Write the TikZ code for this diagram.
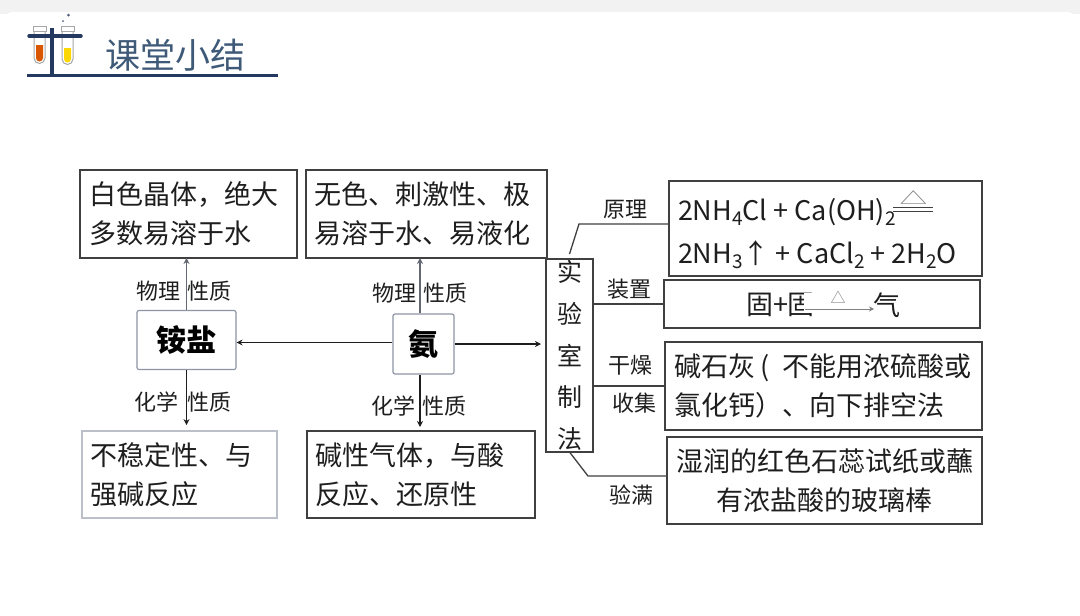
\documentclass[tikz,border=0pt]{standalone}
\usepackage{fontspec}
\setmainfont{Noto Sans CJK SC}
\usetikzlibrary{arrows.meta,calc}
\definecolor{ink}{HTML}{1E1E1E}
\definecolor{edge}{HTML}{404040}
\definecolor{navy}{HTML}{24395F}
\definecolor{titlec}{HTML}{3F5A78}
\definecolor{softedge}{HTML}{8E95A3}
\newcommand{\chemsub}[1]{\raisebox{-5.5pt}{\fontsize{19}{19}\selectfont #1}}
\tikzset{
  txt/.style={inner sep=0pt,outer sep=0pt,text=ink,font=\fontsize{27}{39}\selectfont},
  box/.style={txt,draw=edge,line width=1.2pt,rectangle},
  leftbox/.style n args={3}{box,align=left,minimum width=#1,minimum height=#2,text width=#1-2*#3,inner xsep=#3},
  midbox/.style 2 args={box,align=center,minimum width=#1,minimum height=#2},
  core/.style={draw=softedge,line width=1.2pt,rounded corners=2pt,fill=white,inner sep=0pt,text=black,font=\fontsize{30}{32}\selectfont\bfseries},
  lab/.style={inner sep=0pt,text=ink,font=\fontsize{22}{24}\selectfont},
  link/.style={draw=edge,line width=1.3pt},
  arr/.style={draw=ink,line width=1.3pt,-{Stealth[length=6pt,width=6pt]}},
  grayarr/.style={draw=softedge!70!black,line width=1.3pt,-{Stealth[length=6pt,width=6pt]}}
}
\begin{document}
\begin{tikzpicture}[x=1pt,y=-1pt]
\useasboundingbox (0,0) rectangle (1080,616);
\fill[white] (0,0) rectangle (1080,616);
\fill[black!5] (0,0) rectangle (1080,14);
\fill[white,rounded corners=14pt] (0,12) rectangle (1080,640);

% title
\node[inner sep=0pt,text=titlec,font=\fontsize{35}{38}\selectfont] (title) at (175,55) {课堂小结};
\draw[navy,line width=3.5pt] (27,75.5) -- (278,75.5);
\draw[gray!70,line width=1pt,fill=white] (34,30) -- (34,58) arc[start angle=180,end angle=0,radius=5.5] -- (45,30);
\draw[gray!70,line width=1pt,fill=white] (62,30) -- (62,59) arc[start angle=180,end angle=0,radius=5.5] -- (73,30);
\fill[orange!80!red!85!black] (36,45) -- (36,58) arc[start angle=180,end angle=0,radius=3.5] -- (43,45) -- cycle;
\fill[yellow!75!orange] (64,48) -- (64,59) arc[start angle=180,end angle=0,radius=3.5] -- (71,48) -- cycle;
\draw[gray!70,line width=1pt,fill=white] (33,26) rectangle (46,31);
\draw[gray!70,line width=1pt,fill=white] (61,26) rectangle (74,31);
\draw[navy,line width=3.5pt] (52,28) -- (52,75);
\draw[navy,line width=3.5pt,line cap=round] (29,36) -- (81,36);
\fill[navy!80] (68.5,15) circle (1.5);
\fill[navy!80] (63,21) circle (1);

% top and bottom boxes
\node[leftbox={217pt}{88pt}{9pt}] (salttop) at (188.5,214) {白色晶体，绝大\\多数易溶于水};
\node[leftbox={241pt}{88pt}{8.5pt}] (nh3top) at (426.5,214) {无色、刺激性、极\\易溶于水、易液化};
\node[leftbox={195pt}{87pt}{8pt},draw=softedge!60] (saltbot) at (179.5,474.5) {不稳定性、与\\强碱反应};
\node[leftbox={228pt}{87pt}{8pt}] (nh3bot) at (421,474.5) {碱性气体，与酸\\反应、还原性};

% core nodes
\node[core,minimum width=99pt,minimum height=59pt] (salt) at (186.5,340) {铵盐};
\node[core,minimum width=61pt,minimum height=60pt] (nh3) at (423.5,344) {氨};

% lab column
\node[box,align=center,minimum width=47pt,minimum height=193pt,font=\fontsize{25}{41.7}\selectfont] (labbox) at (569.5,355.5) {实\\验\\室\\制\\法};

% right boxes
\node[midbox={313pt}{95pt}] (eq) at (825.5,228.5) {};
\node[txt,anchor=base west] (eqa) at (678,220) {2NH\chemsub{4}Cl + Ca(OH)\chemsub{2}};
\node[txt,anchor=base west] (eqb) at (678,263) {2NH\chemsub{3}↑ + CaCl\chemsub{2} + 2H\chemsub{2}O};
\node[inner sep=0pt,text=gray,font=\fontsize{24}{24}\selectfont] (heat) at (913.5,198) {\scalebox{1.15}[.7]{△}};
\draw[edge,line width=1pt] (893,207.5) -- (933,207.5) (893,211) -- (933,211);

\node[midbox={316pt}{48pt}] (dev) at (822,304) {};
\node[txt,anchor=west] (solid) at (746,305) {固+固};
\fill[white] (804,293) rectangle (875,313);
\node[txt,anchor=west] (gas) at (873,305) {气};
\node[inner sep=0pt,text=gray,font=\fontsize{15}{15}\selectfont] (devheat) at (838,297) {△};
\draw[gray,line width=1pt,-{Stealth[length=5pt,width=5pt]}] (805,309) -- (874,309);

\node[leftbox={317pt}{88pt}{9pt}] (dry) at (823.5,386) {碱石灰\makebox[27pt][l]{\hspace{5pt}(}不能用浓硫酸或\\氯化钙）、向下排空法};
\node[midbox={315pt}{87pt}] (test) at (824.5,480.5) {湿润的红色石蕊试纸或蘸\\有浓盐酸的玻璃棒};

% connectors
\draw[grayarr] (salt.north) -- (salt.north |- salttop.south);
\draw[arr] (salt.south) -- ++(0,55);
\draw[grayarr] ([xshift=-3.5pt]nh3.north) -- ([xshift=-3.5pt]nh3.north |- nh3top.south);
\draw[arr] ([xshift=-3.5pt]nh3.south) -- ([xshift=-3.5pt,yshift=4pt]nh3.south |- nh3bot.north);
\draw[arr] ([yshift=1.5pt]nh3.west) -- ([yshift=1.5pt]nh3.west -| salt.east);
\draw[arr,shorten >=5pt] (nh3.east) -- (nh3.east -| labbox.west);

\coordinate (k1) at (579,224);
\coordinate (k2) at (588,476);
\draw[link] ([yshift=5pt]labbox.north) -- (k1) -- (k1 -| eq.west);
\draw[link] (labbox.east |- dev.west) -- (dev.west);
\draw[link] (labbox.east |- dry.west) -- (dry.west);
\draw[link] (labbox.south) -- (k2) -- (k2 -| test.west);

% labels
\node[lab] (l1a) at (158,291) {物理};
\node[lab] (l1b) at (209.5,291) {性质};
\node[lab] (l2a) at (394,293) {物理};
\node[lab] (l2b) at (445.5,293) {性质};
\node[lab] (l3a) at (156.5,402) {化学};
\node[lab] (l3b) at (209,402) {性质};
\node[lab] (l4a) at (393,406) {化学};
\node[lab] (l4b) at (444,406) {性质};
\node[lab] (l5) at (625.5,210) {原理};
\node[lab] (l6) at (629,289) {装置};
\node[lab] (l7) at (630.5,365) {干燥};
\node[lab] (l8) at (634,403) {收集};
\node[lab] (l9) at (631.5,495) {验满};
\end{tikzpicture}
\end{document}
